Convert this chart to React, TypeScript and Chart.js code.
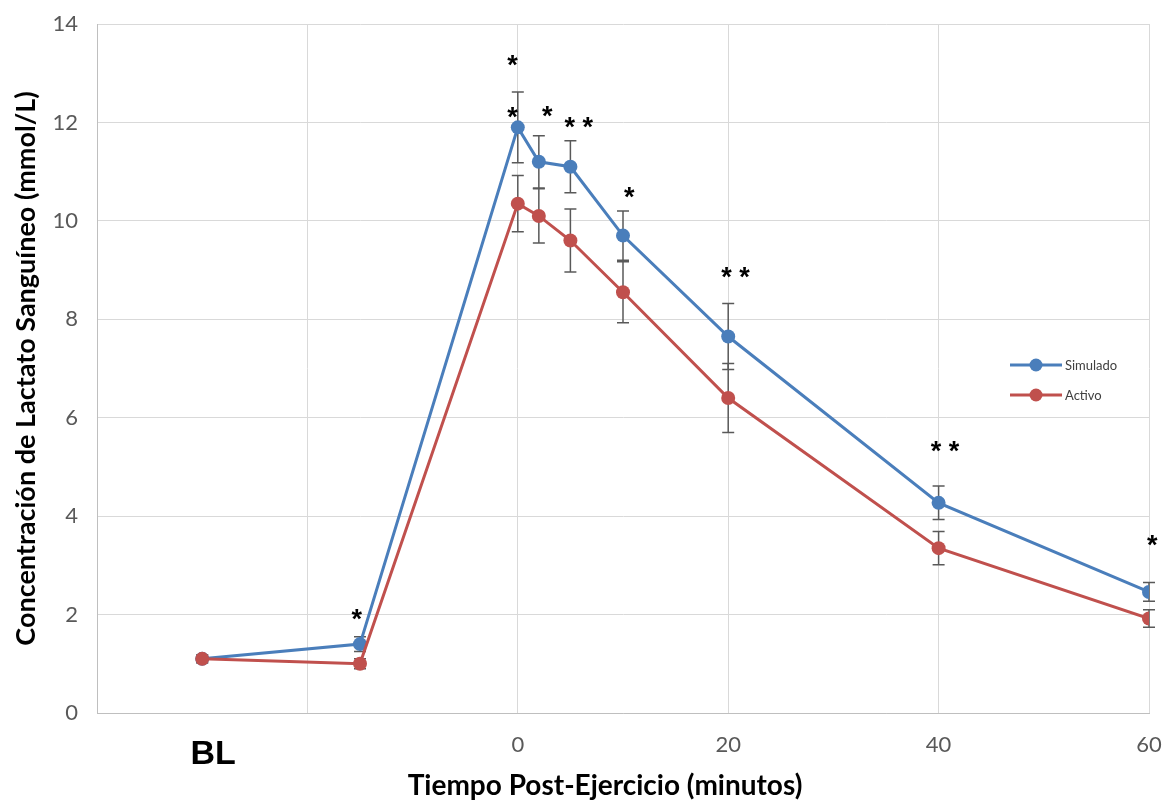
import React, { useEffect, useRef } from 'react';
import { Chart, registerables } from 'chart.js';

Chart.register(...registerables);

const timePoints = [-30, -15, 0, 2, 5, 10, 20, 40, 60];
const simulado = [1.1, 1.4, 11.9, 11.2, 11.1, 9.7, 7.65, 4.27, 2.46];
const simuladoErr = [0.08, 0.15, 0.72, 0.53, 0.53, 0.5, 0.67, 0.34, 0.19];
const activo = [1.1, 1.0, 10.35, 10.1, 9.6, 8.55, 6.4, 3.35, 1.92];
const activoErr = [0.08, 0.1, 0.57, 0.55, 0.64, 0.62, 0.7, 0.34, 0.18];

const xTickValues = [-40, -20, 0, 20, 40, 60];
const xTickLabels = ['', '', '0', '20', '40', '60'];
const baselineLabel = 'BL';
const baselineX = -30;
const xTitle = 'Tiempo Post-Ejercicio (minutos)';
const yTitle = 'Concentración de Lactato Sanguíneo (mmol/L)';

const starX = [-15.3, -0.5, -0.5, 2.8, 5.8, 10.6, 20.7, 40.6, 60.3];
const starY = [2.05, 13.3, 12.25, 12.27, 12.05, 10.61, 8.99, 5.45, 3.55];
const starCount = [1, 1, 1, 1, 2, 1, 2, 2, 1];

const BLUE = '#4a7ebb';
const RED = '#c0504d';
const FONT = 'Lato, "Open Sans", sans-serif';

const overlayPlugin = {
  id: 'overlay',
  beforeDatasetsDraw(chart: any) {
    const ctx = chart.ctx;
    const xs = chart.scales.x;
    const ys = chart.scales.y;
    ctx.save();
    ctx.strokeStyle = '#595959';
    ctx.lineWidth = 1.5;
    const series = [
      [simulado, simuladoErr],
      [activo, activoErr],
    ];
    series.forEach(([vals, errs]) => {
      vals.forEach((v: number, i: number) => {
        const px = xs.getPixelForValue(timePoints[i]);
        const top = ys.getPixelForValue(v + errs[i]);
        const bot = ys.getPixelForValue(v - errs[i]);
        ctx.beginPath();
        ctx.moveTo(px, top);
        ctx.lineTo(px, bot);
        ctx.moveTo(px - 6, top);
        ctx.lineTo(px + 6, top);
        ctx.moveTo(px - 6, bot);
        ctx.lineTo(px + 6, bot);
        ctx.stroke();
      });
    });
    ctx.restore();
  },
  afterDatasetsDraw(chart: any) {
    const ctx = chart.ctx;
    const xs = chart.scales.x;
    const ys = chart.scales.y;
    ctx.save();
    // asterisks
    ctx.fillStyle = '#000000';
    ctx.font = 'bold 27px "Liberation Sans", Arial, sans-serif';
    ctx.textAlign = 'center';
    ctx.textBaseline = 'alphabetic';
    starX.forEach((sx, i) => {
      const cx = xs.getPixelForValue(sx);
      const cy = ys.getPixelForValue(starY[i]);
      const n = starCount[i];
      for (let k = 0; k < n; k++) {
        const ox = (k - (n - 1) / 2) * 18;
        ctx.fillText('*', cx + ox, cy + 0.58 * 27);
      }
    });
    // BL label
    ctx.font = 'bold 34px "Liberation Sans", Arial, sans-serif';
    ctx.textBaseline = 'middle';
    ctx.fillText(baselineLabel, xs.getPixelForValue(baselineX) + 11, 755);
    // x axis title
    ctx.font = `bold 28px ${FONT}`;
    ctx.fillText(xTitle, 605, 786);
    // legend
    const items = [
      { label: 'Simulado', color: BLUE },
      { label: 'Activo', color: RED },
    ];
    ctx.font = `13px ${FONT}`;
    ctx.textAlign = 'left';
    items.forEach((it, i) => {
      const y = 365 + i * 30;
      ctx.strokeStyle = it.color;
      ctx.lineWidth = 3;
      ctx.beginPath();
      ctx.moveTo(1010, y);
      ctx.lineTo(1062, y);
      ctx.stroke();
      ctx.fillStyle = it.color;
      ctx.beginPath();
      ctx.arc(1036, y, 6.5, 0, Math.PI * 2);
      ctx.fill();
      ctx.fillStyle = '#404040';
      ctx.fillText(it.label, 1065, y + 1);
    });
    ctx.restore();
  },
};

export default function App() {
  const ref = useRef<HTMLCanvasElement>(null);
  useEffect(() => {
    document.body.style.margin = '0';
    const canvas = ref.current!;
    const mk = (vals: number[]) => vals.map((v, i) => ({ x: timePoints[i], y: v }));
    const chart = new Chart(canvas, {
      type: 'line',
      data: {
        datasets: [
          {
            label: 'Simulado',
            data: mk(simulado),
            borderColor: BLUE,
            backgroundColor: BLUE,
            borderWidth: 3,
            pointRadius: 7,
            pointBackgroundColor: BLUE,
            pointBorderWidth: 0,
            tension: 0,
            order: 1,
          },
          {
            label: 'Activo',
            data: mk(activo),
            borderColor: RED,
            backgroundColor: RED,
            borderWidth: 3,
            pointRadius: 7,
            pointBackgroundColor: RED,
            pointBorderWidth: 0,
            tension: 0,
            order: 0,
          },
        ],
      },
      options: {
        responsive: false,
        animation: false,
        devicePixelRatio: 1,
        layout: { padding: { top: 24, right: 18, left: 0, bottom: 0 } },
        plugins: { legend: { display: false }, tooltip: { enabled: false } },
        scales: {
          x: {
            type: 'linear',
            min: -40,
            max: 60,
            afterBuildTicks: (s: any) => {
              s.ticks = xTickValues.map((v) => ({ value: v }));
            },
            afterFit: (s: any) => {
              s.height = 87;
              s.paddingLeft = 0;
              s.paddingRight = 0;
            },
            ticks: {
              color: '#595959',
              font: { family: FONT, size: 22 },
              padding: 19,
              callback: (v: any) => {
                const idx = xTickValues.indexOf(Number(v));
                return idx >= 0 ? xTickLabels[idx] : '';
              },
            },
            grid: { color: '#d9d9d9', lineWidth: 1, drawTicks: false },
            border: { color: '#bfbfbf' },
            title: { display: false },
          },
          y: {
            min: 0,
            max: 14,
            afterFit: (s: any) => {
              s.width = 97;
              s.paddingTop = 0;
              s.paddingBottom = 0;
            },
            ticks: {
              stepSize: 2,
              color: '#595959',
              font: { family: FONT, size: 22 },
              padding: 19,
            },
            grid: { color: '#d9d9d9', lineWidth: 1, drawTicks: false },
            border: { color: '#bfbfbf' },
            title: {
              display: true,
              text: yTitle,
              color: '#000000',
              font: { family: FONT, size: 27, weight: 'bold' },
              padding: { top: 10, bottom: 0 },
            },
          },
        },
      },
      plugins: [overlayPlugin],
    });
    return () => chart.destroy();
  }, []);
  return <canvas ref={ref} width={1167} height={800} style={{ display: 'block' }} />;
}
